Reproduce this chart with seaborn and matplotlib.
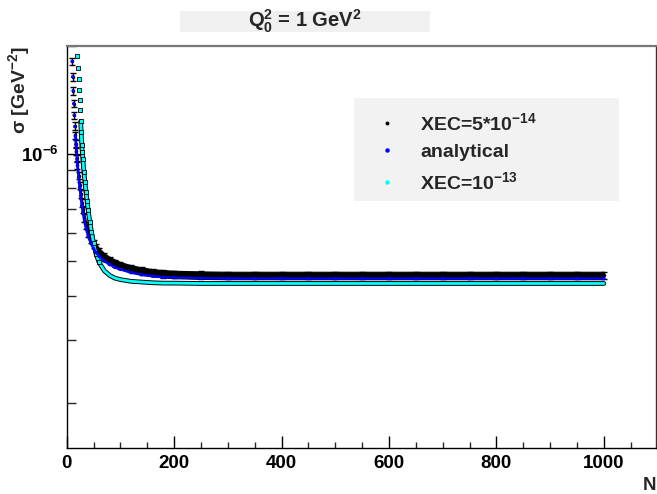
import numpy as np
import pandas as pd
import matplotlib
matplotlib.use("Agg")
import matplotlib.pyplot as plt
import seaborn as sns
from matplotlib.patches import Rectangle
from matplotlib.lines import Line2D
from matplotlib.ticker import LogLocator, MultipleLocator, NullFormatter, FuncFormatter

# ---------------- data (sigma in units of 1e-7 GeV^-2) ----------------
N_main = [10, 11, 12, 13, 14, 15, 16, 17, 18, 19, 20,
          22, 24, 26, 28, 30, 33, 36, 40, 45, 50, 55, 60,
          70, 80, 90, 100, 120, 140, 160, 180, 200,
          250, 300, 350, 400, 450, 500, 550, 600, 650, 700, 750, 800, 850, 900, 950, 1000]

xec5_vals = [18.1, 16.4, 15.0, 13.8, 12.8, 11.95, 11.25, 10.65, 10.15, 9.7, 9.3,
             8.68, 8.15, 7.7, 7.28, 6.98, 6.6, 6.3, 6.0, 5.76, 5.58, 5.44, 5.32,
             5.14, 5.02, 4.93, 4.86, 4.76, 4.69, 4.64, 4.61, 4.59,
             4.57, 4.56, 4.56, 4.56, 4.56, 4.56, 4.56, 4.56, 4.56, 4.56, 4.56, 4.56, 4.56, 4.56, 4.56, 4.56]

xec5_err = [0.45, 0.41, 0.37, 0.34, 0.31, 0.29, 0.27, 0.26, 0.25, 0.24, 0.23,
            0.21, 0.20, 0.19, 0.18, 0.17, 0.16, 0.15, 0.15, 0.14, 0.14, 0.13, 0.13,
            0.12, 0.12, 0.12, 0.11, 0.11, 0.11, 0.11, 0.11, 0.11,
            0.11, 0.11, 0.11, 0.11, 0.11, 0.11, 0.11, 0.11, 0.11, 0.11, 0.11, 0.11, 0.11, 0.11, 0.11, 0.11]

analytical_vals = [18.1, 16.4, 15.0, 13.8, 12.8, 11.9, 11.2, 10.6, 10.1, 9.65, 9.25,
                   8.6, 8.05, 7.6, 7.15, 6.85, 6.45, 6.15, 5.85, 5.6, 5.42, 5.28, 5.16,
                   5.0, 4.89, 4.8, 4.74, 4.64, 4.58, 4.54, 4.51, 4.50,
                   4.48, 4.47, 4.47, 4.47, 4.47, 4.47, 4.47, 4.47, 4.47, 4.47, 4.47, 4.47, 4.47, 4.47, 4.47, 4.47]

N_cyan = [20, 21, 22, 23, 24, 25, 26, 27, 28, 29, 30, 32, 34, 36, 38, 40, 43, 46, 50, 55, 60,
          70, 80, 90, 100, 120, 140, 160, 180, 200,
          250, 300, 350, 400, 450, 500, 550, 600, 650, 700, 750, 800, 850, 900, 950, 1000]

xec13_vals = [18.7, 17.4, 16.2, 15.1, 14.1, 13.2, 12.3, 11.5, 10.6, 10.1, 9.65, 8.9, 8.3, 7.8, 7.35, 6.95,
              6.45, 6.05, 5.62, 5.22, 4.97,
              4.7, 4.56, 4.48, 4.44, 4.39, 4.37, 4.35, 4.34, 4.34,
              4.33, 4.33, 4.33, 4.33, 4.33, 4.33, 4.33, 4.33, 4.33, 4.33, 4.33, 4.33, 4.33, 4.33, 4.33, 4.33]

unit = 1e-7
title_text = r"Q$_{0}^{2}$ = 1 GeV$^{2}$"
ylabel_text = r"σ [GeV$^{-2}$]"
xlabel_text = "N"
legend_labels = [r"XEC=5*10$^{-14}$", "analytical", r"XEC=10$^{-13}$"]

# ---------------- style ----------------
sns.set_theme(style="white")
plt.rcParams['font.family'] = ['Liberation Sans', 'DejaVu Sans']
plt.rcParams['font.weight'] = 'bold'
plt.rcParams['mathtext.fontset'] = 'custom'
plt.rcParams['mathtext.rm'] = 'Liberation Sans:bold'
plt.rcParams['mathtext.bf'] = 'Liberation Sans:bold'
plt.rcParams['mathtext.sf'] = 'Liberation Sans:bold'
plt.rcParams['mathtext.it'] = 'Liberation Sans:bold:italic'

df_main = pd.DataFrame({
    "N": N_main,
    "xec5": np.array(xec5_vals) * unit,
    "err": np.array(xec5_err) * unit,
    "analytical": np.array(analytical_vals) * unit,
})
df_cyan = pd.DataFrame({"N": N_cyan, "xec13": np.array(xec13_vals) * unit})

fig = plt.figure(figsize=(6.57, 4.94), dpi=100)
ax = fig.add_axes([0.1015, 0.0931, 0.8970, 0.8138])
ax.set_yscale('log')

# black series: error band + error bars
band = df_main[df_main["N"] >= 16]
ax.fill_between(band["N"], band["xec5"] - band["err"], band["xec5"] + band["err"],
                color='black', lw=0.8, zorder=2)
ax.errorbar(df_main["N"], df_main["xec5"], yerr=df_main["err"], fmt='o', ms=1.5,
            color='black', ecolor='black', elinewidth=1.0, capsize=2.2, capthick=1.0, zorder=2)

# cyan series (black outline)
cy_line = df_cyan[df_cyan["N"] >= 26]
cy_pts = df_cyan[df_cyan["N"] <= 60]
sns.lineplot(data=cy_line, x="N", y="xec13", ax=ax, color='black', lw=3.4,
             estimator=None, sort=False, zorder=3)
sns.lineplot(data=cy_line, x="N", y="xec13", ax=ax, color='#00ffff', lw=2.0,
             estimator=None, sort=False, zorder=3)
sns.scatterplot(data=cy_pts, x="N", y="xec13", ax=ax, marker='s', s=9, color='#00ffff',
                edgecolor='black', linewidth=0.6, zorder=3)

# analytical (blue)
bl_line = df_main[df_main["N"] >= 16]
sns.lineplot(data=bl_line, x="N", y="analytical", ax=ax, color='#0000ff', lw=1.7,
             estimator=None, sort=False, zorder=4)
sns.scatterplot(data=df_main, x="N", y="analytical", ax=ax, marker='o', s=6, color='#0000ff',
                edgecolor='none', zorder=4)

ax.set_xlim(0, 1097)
ax.set_ylim(1.5e-7, 2.0e-6)

# ticks
ax.xaxis.set_major_locator(MultipleLocator(200))
ax.xaxis.set_minor_locator(MultipleLocator(50))
ax.yaxis.set_major_locator(LogLocator(base=10, numticks=10))
ax.yaxis.set_minor_locator(LogLocator(base=10, subs=(2, 3, 4, 5, 6, 7, 8, 9), numticks=20))
ax.yaxis.set_minor_formatter(NullFormatter())
ax.yaxis.set_major_formatter(FuncFormatter(lambda v, p: r"$10^{%d}$" % int(round(np.log10(v)))))
ax.tick_params(axis='x', which='major', direction='in', length=8.6, width=1.0, pad=5,
               labelsize=13.5, bottom=True, top=False, colors='black')
ax.tick_params(axis='x', which='minor', direction='in', length=4.3, width=1.0, bottom=True, top=False)
ax.tick_params(axis='y', which='major', direction='in', length=9.5, width=1.0, pad=6,
               labelsize=13.5, left=True, right=False, colors='black')
ax.tick_params(axis='y', which='minor', direction='in', length=6.5, width=1.0, left=True, right=False)

for s in ax.spines.values():
    s.set_visible(True)
ax.spines['top'].set_color('#777777'); ax.spines['top'].set_linewidth(1.6)
ax.spines['left'].set_color('black'); ax.spines['left'].set_linewidth(1.0)
ax.spines['bottom'].set_color('black'); ax.spines['bottom'].set_linewidth(1.0)
ax.spines['right'].set_color('#333333'); ax.spines['right'].set_linewidth(1.0)

# axis labels
ax.set_xlabel(xlabel_text, fontsize=13.5, fontweight='bold')
ax.xaxis.label.set_ha('right')
ax.xaxis.set_label_coords(1.0, -0.072)
ax.set_ylabel(ylabel_text, fontsize=14, fontweight='bold')
ax.yaxis.label.set_ha('right')
ax.yaxis.set_label_coords(-0.059, 1.0)

# legend: gray box + frameless legend
ax.add_patch(Rectangle((0.4875, 0.6144), 0.4497, 0.2562, transform=ax.transAxes,
                       facecolor='#f2f2f2', edgecolor='none', zorder=5))
handles = [Line2D([], [], ls='none', marker='o', ms=1.8, color='black'),
           Line2D([], [], ls='none', marker='o', ms=2.2, color='#0000ff'),
           Line2D([], [], ls='none', marker='o', ms=2.2, color='#00ffff')]
leg = ax.legend(handles, legend_labels, loc='upper left', bbox_to_anchor=(0.5276, 0.8358),
                frameon=False, fontsize=14, handlelength=1.0, handletextpad=1.2,
                labelspacing=0.5, borderpad=0.0, borderaxespad=0.0)
leg.set_zorder(6)
for t in leg.get_texts():
    t.set_fontweight('bold')

# title with gray box
fig.patches.append(Rectangle((0.274, 0.9352), 0.3805, 0.0425, transform=fig.transFigure,
                             facecolor='#f0f0f0', edgecolor='none', zorder=0))
fig.text(305 / 657, 1 - 27 / 494, title_text, ha='center', va='baseline',
         fontsize=14.5, fontweight='bold')

fig.savefig("out.png", dpi=100)
